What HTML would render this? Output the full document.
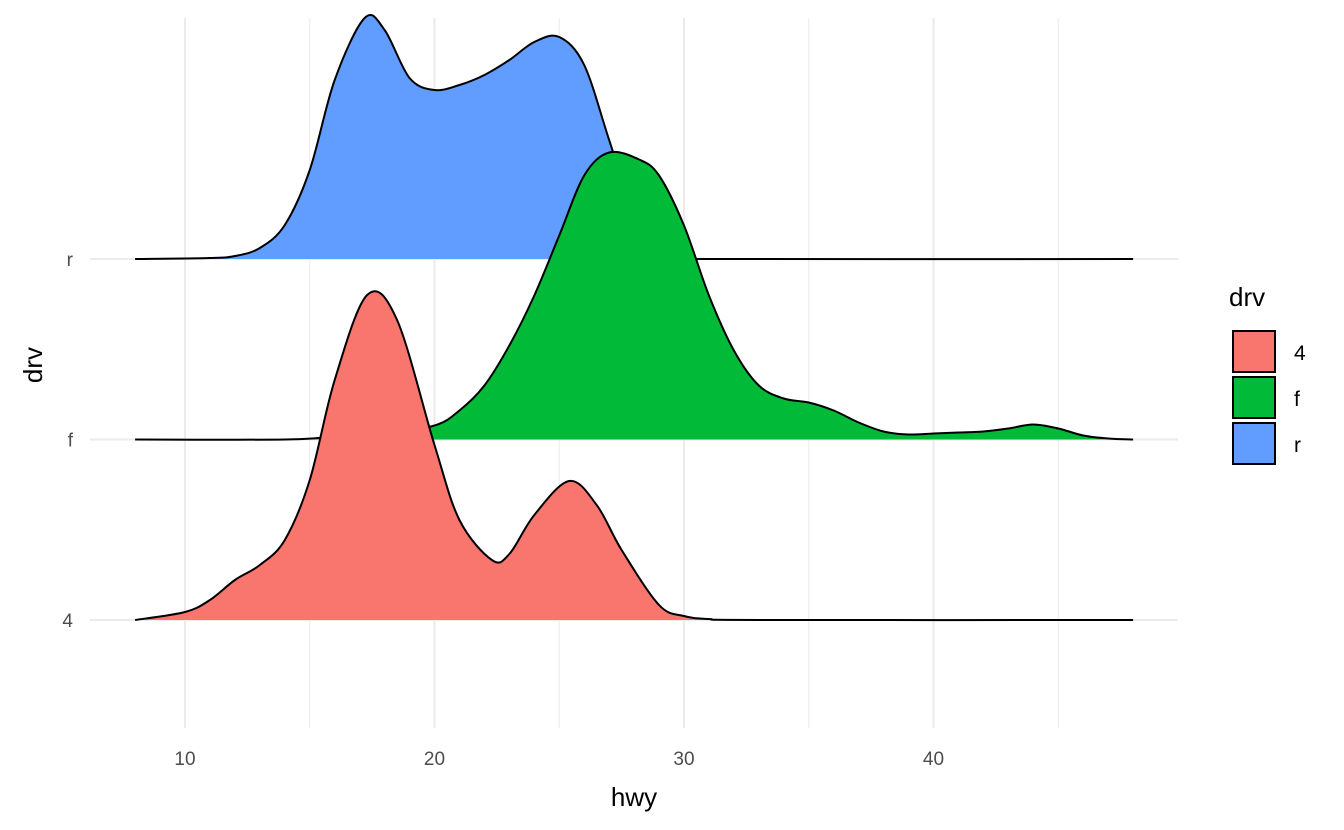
<!DOCTYPE html>
<html><head><meta charset="utf-8"><style>
body{margin:0;background:#fff;}
svg{display:block;font-family:"Liberation Sans",sans-serif;}
</style></head><body>
<svg id="chart" width="1344" height="830">
<g id="grid"></g>
<g id="ridges"></g>
<g id="axes"></g>
<text x="634" y="806" font-size="26" text-anchor="middle" fill="#000">hwy</text>
<text transform="translate(42,365) rotate(-90)" font-size="26" text-anchor="middle" fill="#000">drv</text>
<g>
<text x="1229" y="306" font-size="26" fill="#000">drv</text>
<rect x="1233" y="331" width="42" height="41" fill="#F8766D" stroke="#000" stroke-width="2"/>
<rect x="1233" y="377" width="42" height="41" fill="#00BA38" stroke="#000" stroke-width="2"/>
<rect x="1233" y="423" width="42" height="41" fill="#619CFF" stroke="#000" stroke-width="2"/>
<text x="1294" y="360" font-size="21" fill="#000">4</text>
<text x="1294" y="406" font-size="21" fill="#000">f</text>
<text x="1294" y="452" font-size="21" fill="#000">r</text>
</g>
</svg>
<script>
const categories = ["4","f","r"];
const xTicks = [10,20,30,40];
const xMinor = [15,25,35,45];
const hwy4 = [8,10,11,12,13,14,15,16,17.3,18.5,20,21,22.3,23,24,25.4,26.5,27.5,29,30,31,33,48];
const dens4 = [0,8,20,40,55,80,140,240,325,300,175,100,60,66,105,139,115,70,15,4,1,0,0];
const hwyF = [8,14,16,18,20,21,22,23,24,25,26,27,28.2,29,30,31,32,33,34,35,36,37,38,39,40,41,42,43,44,45,46,47,48];
const densF = [0,0,3,6,14,29,54,94,144,204,264,287,280,264,214,144,89,54,41,37,29,17,8,5,6,7,8,11,15,11,4,1,0];
const hwyR = [8,11,12,13,14,15,16,17.2,18,19,20,21,22,23,24,25,26,27,28,29,30,31,48];
const densR = [0,1,3,11,34,89,179,241,229,181,169,174,184,199,217,222,194,119,44,9,2,0,0];
const series = [
 {cat:"r", xs:hwyR, ys:densR, fill:"#619CFF"},
 {cat:"f", xs:hwyF, ys:densF, fill:"#00BA38"},
 {cat:"4", xs:hwy4, ys:dens4, fill:"#F8766D"}
];
const NS="http://www.w3.org/2000/svg";
const X = v => 185 + (v-10)*24.95;
const Ybase = c => 620 - categories.indexOf(c)*180.5;
function mk(tag, attrs, parent){const e=document.createElementNS(NS,tag);for(const k in attrs)e.setAttribute(k,attrs[k]);parent.appendChild(e);return e;}
const grid=document.getElementById('grid'), ridges=document.getElementById('ridges'), axes=document.getElementById('axes');
xMinor.forEach(v=>{const l=mk('line',{x1:X(v),x2:X(v),y1:18,y2:728,stroke:'#ebebeb','stroke-width':1},grid);

});
xTicks.forEach(v=>{const l=mk('line',{x1:X(v),x2:X(v),y1:18,y2:728,stroke:'#ebebeb','stroke-width':2},grid);


const t=mk('text',{x:X(v),y:765,'font-size':19,'text-anchor':'middle',fill:'#4d4d4d'},axes);t.textContent=v;

});
categories.forEach(c=>{const y=Ybase(c);const l=mk('line',{x1:90,x2:1178,y1:y,y2:y,stroke:'#ebebeb','stroke-width':2},grid);


const t=mk('text',{x:73,y:y+7,'font-size':19,'text-anchor':'end',fill:'#4d4d4d'},axes);t.textContent=c;

});
function curve(pts){let d=`M${pts[0][0]},${pts[0][1]}`;
for(let i=0;i<pts.length-1;i++){const p0=pts[i-1]||pts[i],p1=pts[i],p2=pts[i+1],p3=pts[i+2]||p2;
const t=1/6;d+=` C${p1[0]+(p2[0]-p0[0])*t},${p1[1]+(p2[1]-p0[1])*t} ${p2[0]-(p3[0]-p1[0])*t},${p2[1]-(p3[1]-p1[1])*t} ${p2[0]},${p2[1]}`;}
return d;}
series.forEach(s=>{const b=Ybase(s.cat);const pts=s.xs.map((x,i)=>[X(x),b-s.ys[i]]);const d=curve(pts);
const f=mk('path',{d:d+` L${X(s.xs[s.xs.length-1])},${b} L${X(s.xs[0])},${b} Z`,fill:s.fill,stroke:'none'},ridges);


const l=mk('path',{d:d,fill:'none',stroke:'#000','stroke-width':2},ridges);

});
</script>
</body></html>
